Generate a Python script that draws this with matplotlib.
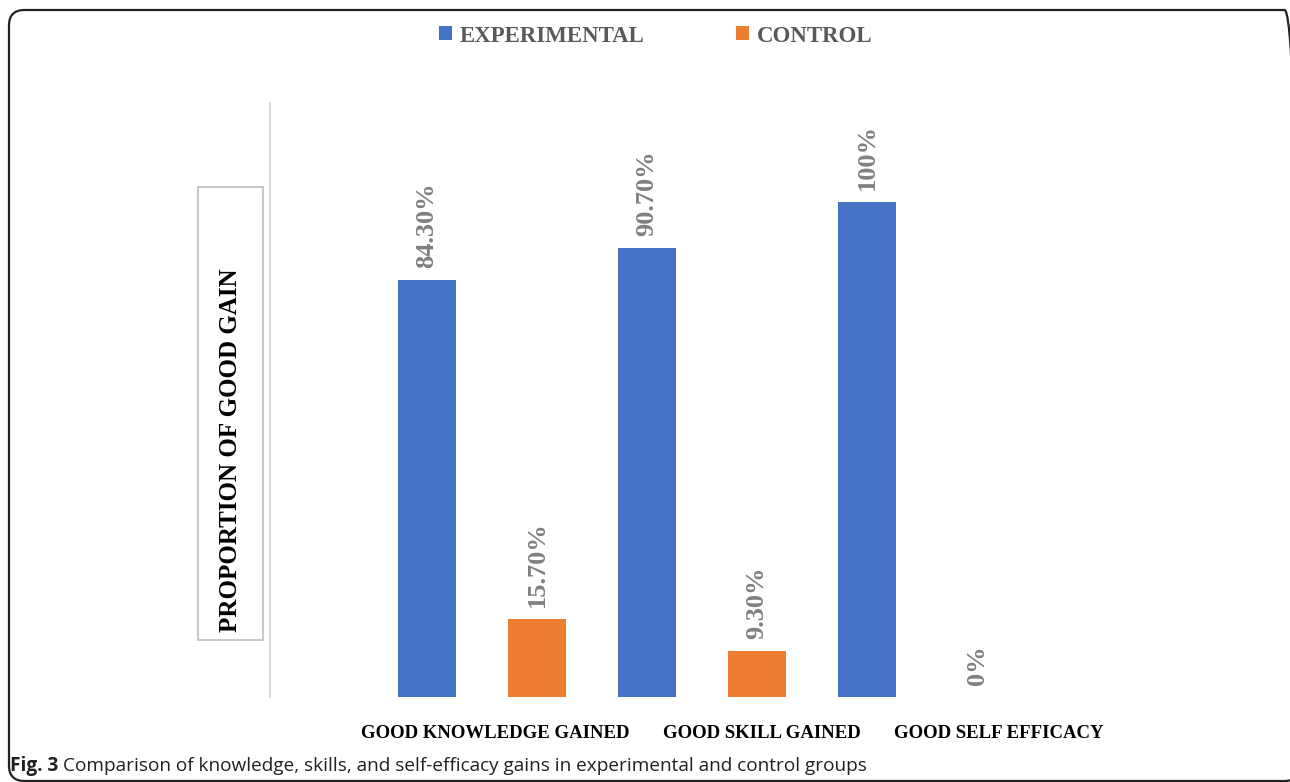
import matplotlib
matplotlib.use('Agg')
import matplotlib.pyplot as plt
from matplotlib.patches import FancyBboxPatch, Rectangle
import numpy as np

categories = ['GOOD KNOWLEDGE GAINED', 'GOOD SKILL GAINED', 'GOOD SELF EFFICACY']
experimental = [84.3, 90.7, 100.0]
control = [15.7, 9.3, 0.0]
exp_labels = ['84.30%', '90.70%', '100%']
ctl_labels = ['15.70%', '9.30%', '0%']
# label centres are shifted right of the groups in the original
label_pos = [0.06, 1.27, 2.35]

BLUE = '#4472C4'
ORANGE = '#ED7D31'
SERIF = 'Liberation Serif'

W, H = 1290, 782
fig = plt.figure(figsize=(W/100, H/100), dpi=100)

# outer rounded frame (right side runs off the image)
frame = FancyBboxPatch((9/W, 1/H), 1291/W, 771/H,
                       boxstyle='round,pad=0,rounding_size=0.012', mutation_aspect=W/H,
                       transform=fig.transFigure, fill=False, edgecolor='#222222',
                       linewidth=1.6, clip_on=False)
fig.patches.append(frame)

ax = fig.add_axes([270/W, 1-697/H, 880/W, 594/H])
x = np.arange(len(categories))
off = 0.25
w = 0.264
b1 = ax.bar(x - off, experimental, w, color=BLUE, label='EXPERIMENTAL')
b2 = ax.bar(x + off, control, w, color=ORANGE, label='CONTROL')

for xi, v, s in zip(x - off, experimental, exp_labels):
    ax.text(xi, v + 2.4, s, rotation=90, ha='center', va='bottom', color='#808080',
            fontsize=19, fontweight='bold', family=SERIF)
for xi, v, s in zip(x + off, control, ctl_labels):
    ax.text(xi, v + 2.4, s, rotation=90, ha='center', va='bottom', color='#808080',
            fontsize=19, fontweight='bold', family=SERIF)

ax.set_xlim(-0.964, 3.036)
ax.set_ylim(0, 120)
ax.set_yticks([])
ax.set_xticks(label_pos, categories)
ax.tick_params(axis='x', length=0, pad=20)
for lab in ax.get_xticklabels():
    lab.set_fontfamily(SERIF)
    lab.set_fontweight('bold')
    lab.set_fontsize(13.5)
for sp in ['top', 'right', 'bottom']:
    ax.spines[sp].set_visible(False)
ax.spines['left'].set_color('#d9d9d9')
ax.spines['left'].set_linewidth(1.5)

# y label in a box
fig.patches.append(Rectangle((198/W, 1-640/H), 65/W, 453/H, transform=fig.transFigure,
                             fill=False, edgecolor='#bfbfbf', linewidth=1.2))
fig.text(230/W, 1-450/H, 'PROPORTION OF GOOD GAIN', rotation=90, ha='center', va='center',
         fontsize=18, fontweight='bold', family=SERIF, color='black')

leg = fig.legend(handles=[b1, b2], loc='center', bbox_to_anchor=(656/W, 1-36/H), ncol=2,
                 frameon=False, handlelength=0.55, handleheight=0.55, handletextpad=0.35,
                 columnspacing=4.0, prop={'family': SERIF, 'weight': 'bold', 'size': 16.5})
for t in leg.get_texts():
    t.set_color('#595959')

# caption
fig.canvas.draw()
r = fig.canvas.get_renderer()
t1 = fig.text(10/W, 1-766/H, 'Fig. 3', fontsize=13.7, fontweight='bold', family='Open Sans',
              va='center', ha='left', color='#231f20')
bb = t1.get_window_extent(r)
fig.text((bb.x1 + 5)/W, 1-766/H,
         'Comparison of knowledge, skills, and self-efficacy gains in experimental and control groups',
         fontsize=13.7, family='Open Sans', va='center', ha='left', color='#231f20')

fig.savefig('out.png', dpi=100)
